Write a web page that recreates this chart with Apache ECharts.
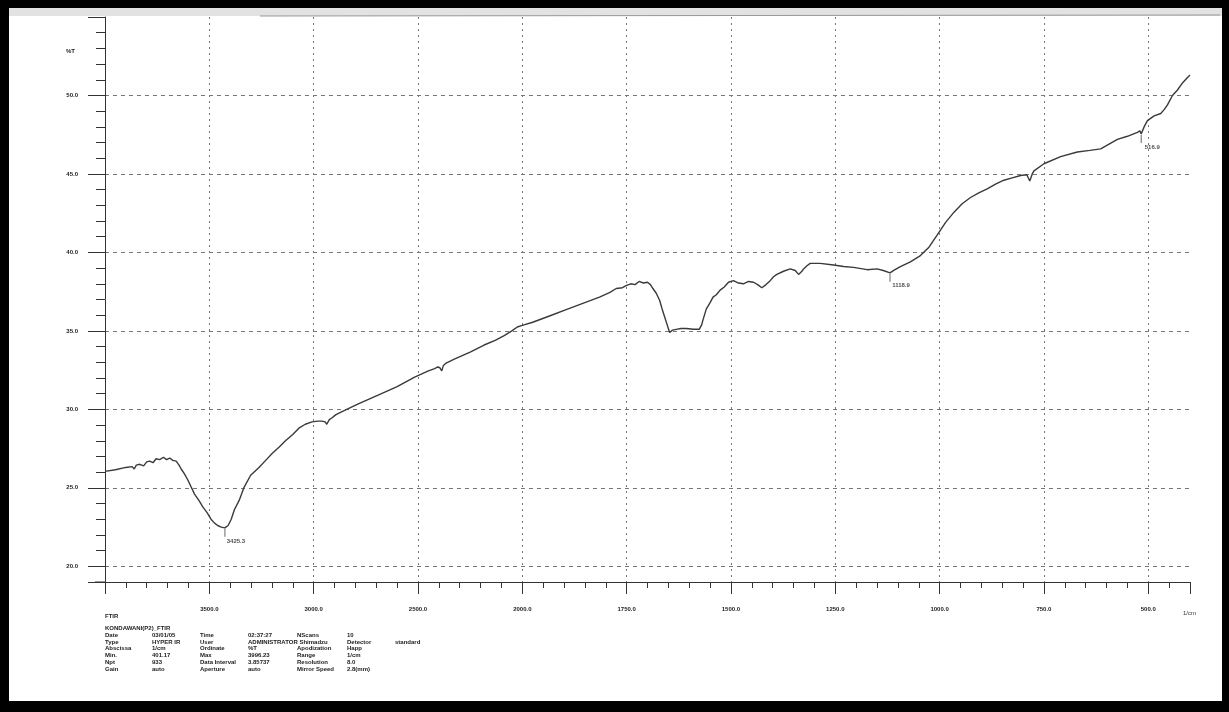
<!DOCTYPE html>
<html>
<head>
<meta charset="utf-8">
<script src="https://cdn.jsdelivr.net/npm/echarts@6/dist/echarts.min.js"></script>
<style>
  html, body { margin: 0; padding: 0; background: #fff; }
  #chart { width: 1229px; height: 712px; }
</style>
</head>
<body>
<div id="chart"></div>
<script>
// spectrum, wavenumber (1/cm) and %T
var wavenumbers = [
  4000, 3950, 3900, 3870, 3860, 3850, 3833, 3815, 3800, 3786, 3770, 3755, 3738, 3720, 3705, 3690, 3675, 3659,
  3645, 3635, 3620, 3603, 3587, 3571, 3550, 3532, 3510, 3492, 3475, 3460, 3443, 3425.3, 3410, 3395, 3380, 3357,
  3333, 3302, 3262, 3230, 3198, 3165, 3135, 3100, 3071, 3040, 3008, 2980, 2960, 2945, 2937, 2925, 2913, 2895,
  2881, 2849, 2786, 2675, 2600, 2516, 2450, 2420, 2405, 2395, 2386, 2378, 2365, 2326, 2250, 2183, 2130, 2087,
  2050, 2024, 2000, 1975, 1935, 1895, 1855, 1815, 1790, 1775, 1760, 1750, 1740, 1730, 1720, 1710, 1700, 1693,
  1687, 1679, 1671, 1665, 1659, 1653, 1647, 1640, 1631, 1620, 1607, 1590, 1576, 1570, 1567, 1559, 1550, 1543,
  1535, 1526, 1516, 1506, 1494, 1482, 1470, 1458, 1446, 1436, 1426, 1416, 1406, 1398, 1390, 1374, 1358, 1346,
  1338, 1330, 1326, 1318, 1310, 1286, 1254, 1230, 1206, 1174, 1150, 1135, 1118.9, 1110, 1094, 1070, 1046, 1025,
  1006, 986, 966, 946, 926, 906, 886, 866, 846, 826, 806, 791, 784, 778, 774, 750, 710, 670, 640, 614, 594, 574,
  550, 526, 520, 516.9, 510, 502, 486, 470, 462, 454, 442, 430, 418, 406, 400
];
var transmittance = [
  26.05, 26.15, 26.3, 26.35, 26.2, 26.45, 26.5, 26.4, 26.65, 26.7, 26.6, 26.85, 26.8, 26.95, 26.8, 26.9, 26.75, 26.7,
  26.45, 26.2, 25.9, 25.5, 25.05, 24.6, 24.2, 23.8, 23.4, 23.0, 22.75, 22.6, 22.5, 22.45, 22.6, 23.0, 23.6, 24.2,
  25.05, 25.8, 26.3, 26.75, 27.2, 27.6, 28.0, 28.4, 28.8, 29.05, 29.2, 29.25, 29.25, 29.2, 29.05, 29.35, 29.45, 29.65,
  29.75, 29.95, 30.35, 31.0, 31.45, 32.05, 32.45, 32.6, 32.7, 32.65, 32.45, 32.8, 32.95, 33.2, 33.65, 34.1, 34.4, 34.7,
  35.0, 35.25, 35.35, 35.55, 35.95, 36.35, 36.75, 37.15, 37.45, 37.7, 37.75, 37.9, 38.0, 37.95, 38.15, 38.05, 38.1, 37.95,
  37.7, 37.4, 36.95, 36.4, 35.9, 35.4, 34.9, 35.05, 35.1, 35.15, 35.15, 35.1, 35.1, 35.4, 35.7, 36.4, 36.8, 37.15,
  37.3, 37.6, 37.8, 38.1, 38.2, 38.05, 38.0, 38.15, 38.1, 37.95, 37.75, 37.95, 38.2, 38.45, 38.6, 38.8, 38.95, 38.85,
  38.6, 38.8, 38.95, 39.15, 39.3, 39.3, 39.2, 39.1, 39.05, 38.9, 38.95, 38.85, 38.7, 38.85, 39.1, 39.4, 39.8, 40.35,
  41.1, 41.9, 42.55, 43.1, 43.5, 43.8, 44.05, 44.35, 44.6, 44.75, 44.9, 44.95, 44.55, 45.0, 45.2, 45.65, 46.1, 46.4, 46.5, 46.6, 46.9, 47.2,
  47.4, 47.65, 47.75, 47.55, 48.0, 48.4, 48.7, 48.85, 49.1, 49.4, 50.0, 50.35, 50.8, 51.15, 51.3
];

// marked peaks
var peakWn = [3425.3, 1118.9, 516.9];
var peakT = [22.45, 38.7, 47.55];

// x tick labels, one per unit of the folded axis
var xTickWn = [4000, 3500, 3000, 2500, 2000, 1750, 1500, 1250, 1000, 750, 500];

// info block under the plot
var infoRows = [
  ['Date', '03/01/05', 'Time', '02:37:27', 'NScans', '10', ''],
  ['Type', 'HYPER IR', 'User', 'ADMINISTRATOR Shimadzu', '', 'Detector', 'standard'],
  ['Abscissa', '1/cm', 'Ordinate', '%T', 'Apodization', 'Happ', ''],
  ['Min.', '401.17', 'Max', '3996.23', 'Range', '1/cm', ''],
  ['Npt', '933', 'Data Interval', '3.85737', 'Resolution', '8.0', ''],
  ['Gain', 'auto', 'Aperture', 'auto', 'Mirror Speed', '2.8(mm)', '']
];
var infoCols = [105, 152, 200, 248, 297, 347, 395];

// the printout scale halves at 2000 1/cm
function toPos(wn) {
  return wn >= 2000 ? (4000 - wn) / 500 : 4 + (2000 - wn) / 250;
}

var lineData = wavenumbers.map(function (w, i) { return [toPos(w), transmittance[i]]; });
var peakData = peakWn.map(function (w, i) { return [toPos(w), peakT[i]]; });

var graphics = [];
graphics.push({ type: 'rect', shape: { x: 9, y: 8, width: 1213, height: 8 }, style: { fill: '#e2e2e2' }, z: -1 });
graphics.push({ type: 'line', shape: { x1: 260, y1: 16, x2: 1220, y2: 15 }, style: { stroke: '#999', lineWidth: 1 } });
graphics.push({ type: 'line', shape: { x1: 95, y1: 582, x2: 105, y2: 582 }, style: { stroke: '#333', lineWidth: 1 } });
graphics.push({ type: 'text', x: 66, y: 51, style: { text: '%T', fontSize: 6, fontWeight: 'bold', fill: '#222', align: 'left', verticalAlign: 'middle' } });
graphics.push({ type: 'text', x: 1183, y: 613, style: { text: '1/cm', fontSize: 6, fill: '#333', verticalAlign: 'middle' } });
graphics.push({ type: 'text', x: 105, y: 616, style: { text: 'FTIR', fontSize: 6, fontWeight: 'bold', fill: '#222', verticalAlign: 'middle' } });
graphics.push({ type: 'text', x: 105, y: 628, style: { text: 'KONDAWANI(P2)_FTIR', fontSize: 6, fontWeight: 'bold', fill: '#222', verticalAlign: 'middle' } });
infoRows.forEach(function (row, r) {
  row.forEach(function (cell, c) {
    if (!cell) return;
    graphics.push({
      type: 'text', x: infoCols[c], y: 635 + r * 6.9,
      style: { text: cell, fontSize: 6, fontWeight: 'bold', fill: '#222', verticalAlign: 'middle' }
    });
  });
});
// scan frame
graphics.push({ type: 'rect', shape: { x: 0, y: 0, width: 1229, height: 8 }, style: { fill: '#000' }, z: 100 });
graphics.push({ type: 'rect', shape: { x: 0, y: 0, width: 9, height: 712 }, style: { fill: '#000' }, z: 100 });
graphics.push({ type: 'rect', shape: { x: 1222, y: 0, width: 7, height: 712 }, style: { fill: '#000' }, z: 100 });
graphics.push({ type: 'rect', shape: { x: 0, y: 701, width: 1229, height: 11 }, style: { fill: '#000' }, z: 100 });

var chart = echarts.init(document.getElementById('chart'));
chart.setOption({
  backgroundColor: '#fff',
  animation: false,
  grid: { left: 105, right: 39, top: 17, bottom: 130 },
  xAxis: {
    type: 'value', min: 0, max: 10.4, interval: 1,
    axisLine: { lineStyle: { color: '#333', width: 1 } },
    axisTick: { length: 12, lineStyle: { color: '#333' } },
    minorTick: { show: true, splitNumber: 5, length: 6, lineStyle: { color: '#333' } },
    splitLine: { show: true, showMinLine: false, showMaxLine: false, lineStyle: { color: '#777', type: [2, 4], width: 1 } },
    axisLabel: {
      margin: 24, fontSize: 6, fontWeight: 'bold', color: '#222',
      formatter: function (v) {
        var k = Math.round(v);
        if (Math.abs(v - k) > 1e-6 || k < 1 || k > 10) return '';
        return xTickWn[k].toFixed(1);
      }
    }
  },
  yAxis: {
    type: 'value', min: 19, max: 55, splitNumber: 7,
    axisLine: { lineStyle: { color: '#333', width: 1 } },
    axisTick: { length: 17, lineStyle: { color: '#333' } },
    minorTick: { show: true, splitNumber: 5, length: 9, lineStyle: { color: '#333' } },
    splitLine: { show: true, showMinLine: false, showMaxLine: false, lineStyle: { color: '#777', type: [4, 4], width: 1 } },
    axisLabel: {
      margin: 27, fontSize: 6, fontWeight: 'bold', color: '#222',
      formatter: function (v) {
        if (v < 20 || v > 50 || Math.abs(v % 5) > 1e-6) return '';
        return v.toFixed(1);
      }
    }
  },
  series: [
    {
      type: 'line', data: lineData, showSymbol: false, smooth: false,
      lineStyle: { color: '#3a3a3a', width: 1.4 }
    },
    {
      type: 'scatter', data: peakData,
      symbol: 'rect', symbolSize: [1, 8], symbolOffset: [0, 5],
      itemStyle: { color: '#444' },
      label: {
        show: true, position: 'bottom', distance: 1, offset: [11, 0],
        fontSize: 6, fontWeight: 'bold', color: '#222',
        formatter: function (p) { return peakWn[p.dataIndex].toFixed(1); }
      }
    }
  ],
  graphic: graphics
});
</script>
</body>
</html>
